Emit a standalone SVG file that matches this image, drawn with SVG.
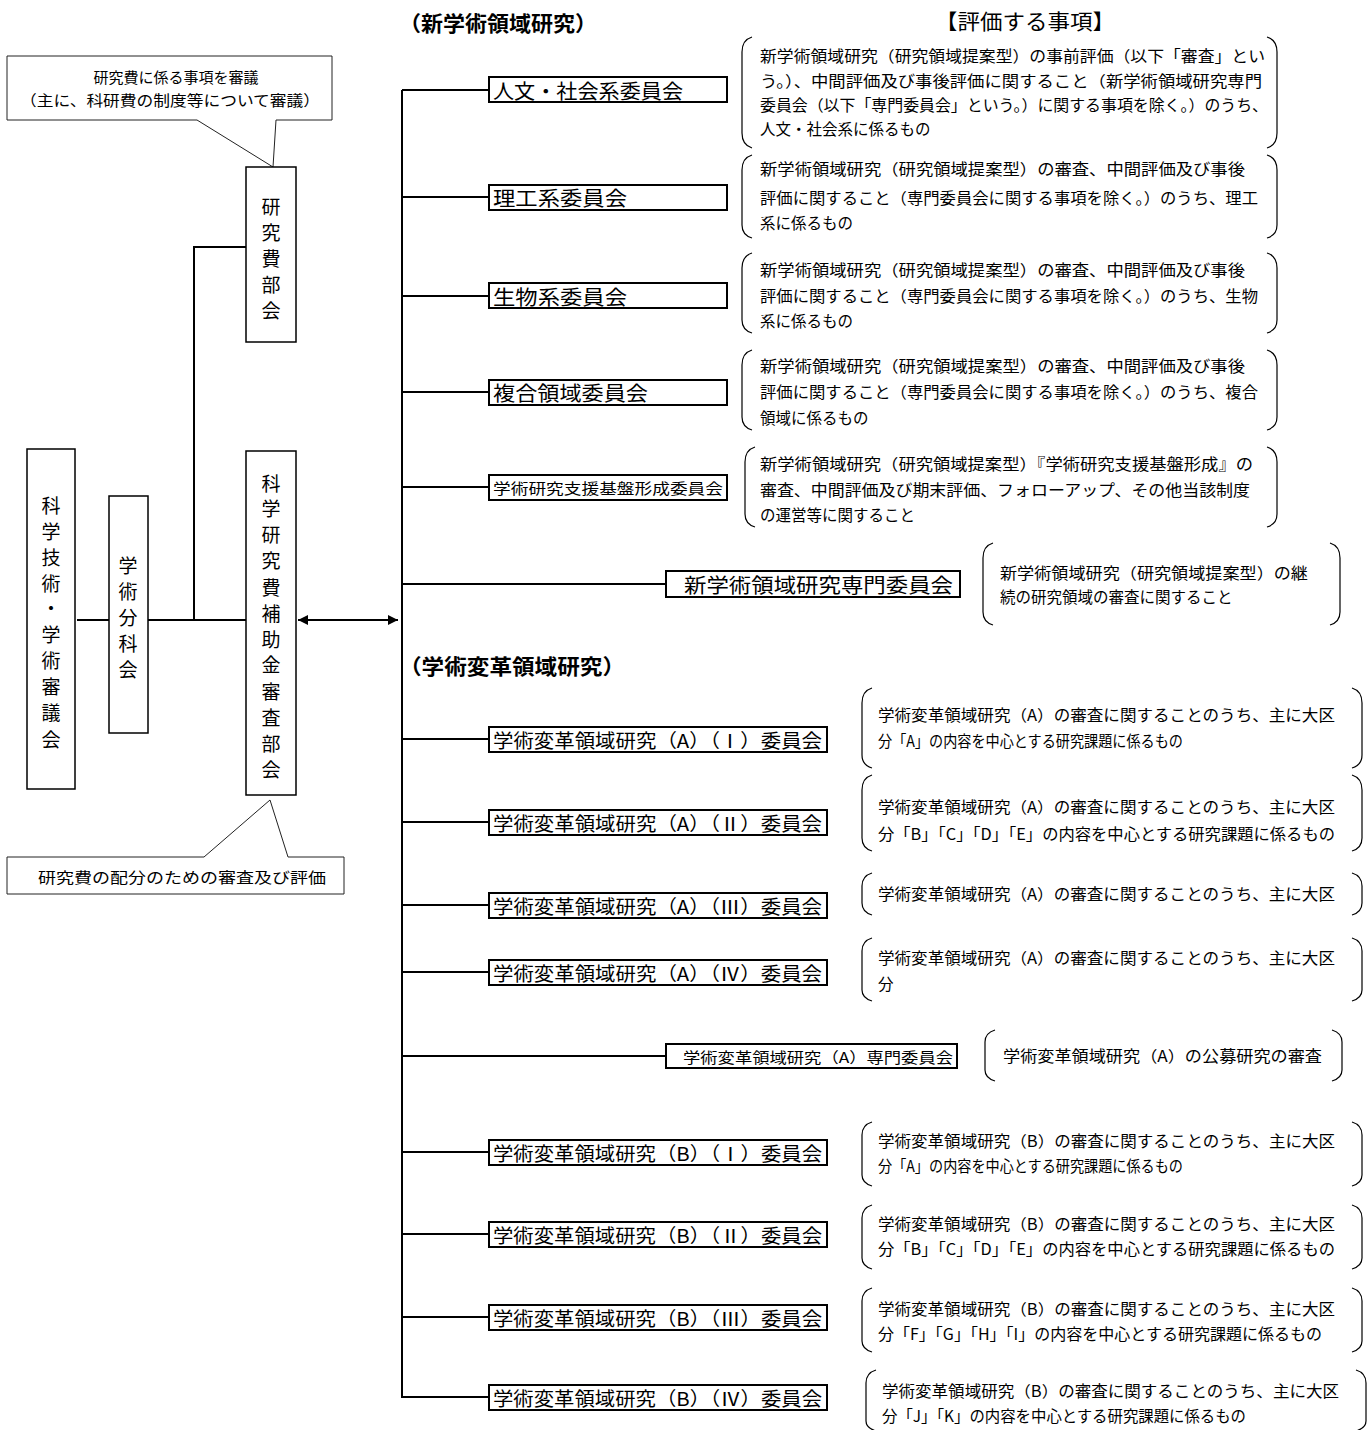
<svg xmlns="http://www.w3.org/2000/svg" width="1368" height="1430" viewBox="0 0 1368 1430">
<style>
text{font-family:"Noto Sans CJK JP","Liberation Sans",sans-serif;fill:#000;}
.v{font-size:19px;text-anchor:middle;dominant-baseline:central;}
.lbl{font-size:20px;dominant-baseline:central;}
.lbl2{font-size:19px;dominant-baseline:central;}
.sm{font-size:15px;dominant-baseline:central;}
.d{font-size:15.5px;dominant-baseline:central;}
.d2{font-size:15.5px;dominant-baseline:central;}
.hd{font-size:21px;font-weight:bold;dominant-baseline:central;}
.hr{font-size:21px;dominant-baseline:central;}
.co{font-size:15px;text-anchor:middle;dominant-baseline:central;}
.box{fill:#fff;stroke:#000;stroke-width:1.5;}
.cbox{fill:#fff;stroke:#000;stroke-width:2;}
.br{fill:none;stroke:#000;stroke-width:1.2;}
.call{fill:#fff;stroke:#222;stroke-width:1;}
.ln{fill:none;stroke:#000;stroke-width:2;}
</style>
<defs>
<marker id="ah" viewBox="0 0 10 10" refX="10" refY="5" markerWidth="10" markerHeight="10" markerUnits="userSpaceOnUse" orient="auto-start-reverse">
<path d="M0,0 L10,5 L0,10 Z" fill="#000"/>
</marker>
</defs>

<g id="connectors">
<path class="ln" d="M77,620 H109"/>
<path class="ln" d="M148,620 H246"/>
<path class="ln" d="M194,620 V247 H246"/>
<path class="ln" d="M298,620 H398" marker-start="url(#ah)" marker-end="url(#ah)"/>
<path class="ln" d="M402,90 V1397"/>
<path class="ln" d="M402,90 H489"/>
<path class="ln" d="M402,197 H489"/>
<path class="ln" d="M402,296 H489"/>
<path class="ln" d="M402,392 H489"/>
<path class="ln" d="M402,487 H489"/>
<path class="ln" d="M402,584 H666"/>
<path class="ln" d="M402,739 H489"/>
<path class="ln" d="M402,822 H489"/>
<path class="ln" d="M402,905 H489"/>
<path class="ln" d="M402,972 H489"/>
<path class="ln" d="M402,1056 H666"/>
<path class="ln" d="M402,1152 H489"/>
<path class="ln" d="M402,1234 H489"/>
<path class="ln" d="M402,1317 H489"/>
<path class="ln" d="M401,1397 H489"/>
</g>

<g id="callout-top">
<path class="call" d="M7,56 H332 V120 H276 L273,167 L197,120 H7 Z"/>
<text class="co" x="176" y="76">研究費に係る事項を審議</text>
<text class="co" x="170" y="99" textLength="300" lengthAdjust="spacingAndGlyphs">（主に、科研費の制度等について審議）</text>
</g>

<g id="callout-bottom">
<path class="call" d="M7,857 H204 L270,800 L288,857 H344 V894 H7 Z"/>
<text class="co" x="182" y="876" textLength="288" lengthAdjust="spacingAndGlyphs">研究費の配分のための審査及び評価</text>
</g>

<g id="node-council">
<rect class="box" x="27" y="449" width="48" height="340"/>
<text class="v"><tspan x="51" y="504">科</tspan><tspan x="51" y="530">学</tspan><tspan x="51" y="556">技</tspan><tspan x="51" y="582">術</tspan><tspan x="51" y="607">・</tspan><tspan x="51" y="633">学</tspan><tspan x="51" y="659">術</tspan><tspan x="51" y="685">審</tspan><tspan x="51" y="711">議</tspan><tspan x="51" y="738">会</tspan></text>
</g>

<g id="node-bunkakai">
<rect class="box" x="109" y="496" width="39" height="237"/>
<text class="v"><tspan x="128" y="564">学</tspan><tspan x="128" y="590">術</tspan><tspan x="128" y="616">分</tspan><tspan x="128" y="642">科</tspan><tspan x="128" y="668">会</tspan></text>
</g>

<g id="node-kenkyuhi">
<rect class="box" x="246" y="167" width="50" height="175"/>
<text class="v"><tspan x="271" y="205">研</tspan><tspan x="271" y="231">究</tspan><tspan x="271" y="257">費</tspan><tspan x="271" y="283">部</tspan><tspan x="271" y="309">会</tspan></text>
</g>

<g id="node-shinsa">
<rect class="box" x="246" y="451" width="50" height="344"/>
<text class="v"><tspan x="271" y="482">科</tspan><tspan x="271" y="507">学</tspan><tspan x="271" y="533">研</tspan><tspan x="271" y="559">究</tspan><tspan x="271" y="586">費</tspan><tspan x="271" y="612">補</tspan><tspan x="271" y="638">助</tspan><tspan x="271" y="663">金</tspan><tspan x="271" y="690">審</tspan><tspan x="271" y="716">査</tspan><tspan x="271" y="742">部</tspan><tspan x="271" y="768">会</tspan></text>
</g>

<g id="headers">
<text class="hd" x="399" y="22" textLength="198" lengthAdjust="spacingAndGlyphs">（新学術領域研究）</text>
<text class="hr" x="935" y="20" textLength="180" lengthAdjust="spacingAndGlyphs">【評価する事項】</text>
<text class="hd" x="399" y="665" textLength="226" lengthAdjust="spacingAndGlyphs">（学術変革領域研究）</text>
</g>

<!-- Section 1 -->
<g id="node-jinbun">
<rect class="cbox" x="489" y="77" width="238" height="25"/>
<text class="lbl" x="493" y="90" textLength="190" lengthAdjust="spacingAndGlyphs">人文・社会系委員会</text>
<path class="br" d="M752,37 Q742,40 742,52 V133 Q742,145 752,148"/>
<path class="br" d="M1267,37 Q1277,40 1277,52 V133 Q1277,145 1267,148"/>
<text class="d" x="760" y="55" textLength="505" lengthAdjust="spacingAndGlyphs">新学術領域研究（研究領域提案型）の事前評価（以下「審査」とい</text>
<text class="d" x="760" y="80" textLength="502" lengthAdjust="spacingAndGlyphs">う。）、中間評価及び事後評価に関すること（新学術領域研究専門</text>
<text class="d" x="760" y="104" textLength="508" lengthAdjust="spacingAndGlyphs">委員会（以下「専門委員会」という。）に関する事項を除く。）のうち、</text>
<text class="d" x="760" y="128">人文・社会系に係るもの</text>
</g>

<g id="node-riko">
<rect class="cbox" x="489" y="185" width="238" height="25"/>
<text class="lbl" x="493" y="197" textLength="134" lengthAdjust="spacingAndGlyphs">理工系委員会</text>
<path class="br" d="M752,155 Q742,158 742,170 V225 Q742,235 752,238"/>
<path class="br" d="M1267,155 Q1277,158 1277,170 V225 Q1277,235 1267,238"/>
<text class="d" x="760" y="168" textLength="485" lengthAdjust="spacingAndGlyphs">新学術領域研究（研究領域提案型）の審査、中間評価及び事後</text>
<text class="d" x="760" y="197" textLength="498" lengthAdjust="spacingAndGlyphs">評価に関すること（専門委員会に関する事項を除く。）のうち、理工</text>
<text class="d" x="760" y="222">系に係るもの</text>
</g>

<g id="node-seibutsu">
<rect class="cbox" x="489" y="283" width="238" height="25"/>
<text class="lbl" x="493" y="296" textLength="134" lengthAdjust="spacingAndGlyphs">生物系委員会</text>
<path class="br" d="M752,253 Q742,256 742,268 V320 Q742,330 752,333"/>
<path class="br" d="M1267,253 Q1277,256 1277,268 V320 Q1277,330 1267,333"/>
<text class="d" x="760" y="269" textLength="485" lengthAdjust="spacingAndGlyphs">新学術領域研究（研究領域提案型）の審査、中間評価及び事後</text>
<text class="d" x="760" y="295" textLength="498" lengthAdjust="spacingAndGlyphs">評価に関すること（専門委員会に関する事項を除く。）のうち、生物</text>
<text class="d" x="760" y="320">系に係るもの</text>
</g>

<g id="node-fukugo">
<rect class="cbox" x="489" y="380" width="238" height="25"/>
<text class="lbl" x="493" y="392" textLength="155" lengthAdjust="spacingAndGlyphs">複合領域委員会</text>
<path class="br" d="M752,350 Q742,353 742,365 V417 Q742,427 752,430"/>
<path class="br" d="M1267,350 Q1277,353 1277,365 V417 Q1277,427 1267,430"/>
<text class="d" x="760" y="365" textLength="485" lengthAdjust="spacingAndGlyphs">新学術領域研究（研究領域提案型）の審査、中間評価及び事後</text>
<text class="d" x="760" y="391" textLength="498" lengthAdjust="spacingAndGlyphs">評価に関すること（専門委員会に関する事項を除く。）のうち、複合</text>
<text class="d" x="760" y="417">領域に係るもの</text>
</g>

<g id="node-kiban">
<rect class="cbox" x="489" y="475" width="238" height="25"/>
<text class="sm" x="493" y="487" textLength="230" lengthAdjust="spacingAndGlyphs">学術研究支援基盤形成委員会</text>
<path class="br" d="M755,447 Q745,450 745,462 V514 Q745,524 755,527"/>
<path class="br" d="M1267,447 Q1277,450 1277,462 V514 Q1277,524 1267,527"/>
<text class="d" x="760" y="463" textLength="493" lengthAdjust="spacingAndGlyphs">新学術領域研究（研究領域提案型）『学術研究支援基盤形成』の</text>
<text class="d" x="760" y="489" textLength="490" lengthAdjust="spacingAndGlyphs">審査、中間評価及び期末評価、フォローアップ、その他当該制度</text>
<text class="d" x="760" y="514">の運営等に関すること</text>
</g>

<g id="node-shingaku-senmon">
<rect class="cbox" x="666" y="571" width="294" height="26"/>
<text class="lbl" x="684" y="584" textLength="269" lengthAdjust="spacingAndGlyphs">新学術領域研究専門委員会</text>
<path class="br" d="M993,543 Q983,546 983,558 V612 Q983,622 993,625"/>
<path class="br" d="M1330,543 Q1340,546 1340,558 V612 Q1340,622 1330,625"/>
<text class="d" x="1000" y="572" textLength="308" lengthAdjust="spacingAndGlyphs">新学術領域研究（研究領域提案型）の継</text>
<text class="d" x="1000" y="596">続の研究領域の審査に関すること</text>
</g>

<!-- Section 2 -->
<g id="node-a1">
<rect class="cbox" x="489" y="727" width="338" height="25"/>
<text class="lbl2" x="493" y="739" textLength="329" lengthAdjust="spacingAndGlyphs">学術変革領域研究（A）（Ⅰ）委員会</text>
<path class="br" d="M872,688 Q862,691 862,703 V755 Q862,765 872,768"/>
<path class="br" d="M1352,688 Q1362,691 1362,703 V755 Q1362,765 1352,768"/>
<text class="d2" x="878" y="714" textLength="457" lengthAdjust="spacingAndGlyphs">学術変革領域研究（A）の審査に関することのうち、主に大区</text>
<text class="d2" x="878" y="740" textLength="305" lengthAdjust="spacingAndGlyphs">分「A」の内容を中心とする研究課題に係るもの</text>
</g>

<g id="node-a2">
<rect class="cbox" x="489" y="810" width="338" height="25"/>
<text class="lbl2" x="493" y="822" textLength="329" lengthAdjust="spacingAndGlyphs">学術変革領域研究（A）（Ⅱ）委員会</text>
<path class="br" d="M872,775 Q862,778 862,790 V838 Q862,848 872,851"/>
<path class="br" d="M1352,775 Q1362,778 1362,790 V838 Q1362,848 1352,851"/>
<text class="d2" x="878" y="806" textLength="457" lengthAdjust="spacingAndGlyphs">学術変革領域研究（A）の審査に関することのうち、主に大区</text>
<text class="d2" x="878" y="833" textLength="457" lengthAdjust="spacingAndGlyphs">分「B」「C」「D」「E」の内容を中心とする研究課題に係るもの</text>
</g>

<g id="node-a3">
<rect class="cbox" x="489" y="893" width="338" height="25"/>
<text class="lbl2" x="493" y="905" textLength="329" lengthAdjust="spacingAndGlyphs">学術変革領域研究（A）（Ⅲ）委員会</text>
<path class="br" d="M872,873 Q862,876 862,886 V903 Q862,912 872,915"/>
<path class="br" d="M1352,873 Q1362,876 1362,886 V903 Q1362,912 1352,915"/>
<text class="d2" x="878" y="893" textLength="457" lengthAdjust="spacingAndGlyphs">学術変革領域研究（A）の審査に関することのうち、主に大区</text>
</g>

<g id="node-a4">
<rect class="cbox" x="489" y="960" width="338" height="25"/>
<text class="lbl2" x="493" y="972" textLength="329" lengthAdjust="spacingAndGlyphs">学術変革領域研究（A）（Ⅳ）委員会</text>
<path class="br" d="M872,938 Q862,941 862,951 V990 Q862,998 872,1001"/>
<path class="br" d="M1352,938 Q1362,941 1362,951 V990 Q1362,998 1352,1001"/>
<text class="d2" x="878" y="957" textLength="457" lengthAdjust="spacingAndGlyphs">学術変革領域研究（A）の審査に関することのうち、主に大区</text>
<text class="d2" x="878" y="983">分</text>
</g>

<g id="node-a-senmon">
<rect class="cbox" x="666" y="1044" width="291" height="24"/>
<text class="sm" x="683" y="1056" textLength="270" lengthAdjust="spacingAndGlyphs">学術変革領域研究（A）専門委員会</text>
<path class="br" d="M995,1030 Q985,1033 985,1042 V1070 Q985,1078 995,1081"/>
<path class="br" d="M1332,1030 Q1342,1033 1342,1042 V1070 Q1342,1078 1332,1081"/>
<text class="d2" x="1003" y="1055" textLength="319" lengthAdjust="spacingAndGlyphs">学術変革領域研究（A）の公募研究の審査</text>
</g>

<g id="node-b1">
<rect class="cbox" x="489" y="1140" width="338" height="25"/>
<text class="lbl2" x="493" y="1152" textLength="329" lengthAdjust="spacingAndGlyphs">学術変革領域研究（B）（Ⅰ）委員会</text>
<path class="br" d="M872,1122 Q862,1125 862,1135 V1175 Q862,1183 872,1186"/>
<path class="br" d="M1352,1122 Q1362,1125 1362,1135 V1175 Q1362,1183 1352,1186"/>
<text class="d2" x="878" y="1140" textLength="457" lengthAdjust="spacingAndGlyphs">学術変革領域研究（B）の審査に関することのうち、主に大区</text>
<text class="d2" x="878" y="1165" textLength="305" lengthAdjust="spacingAndGlyphs">分「A」の内容を中心とする研究課題に係るもの</text>
</g>

<g id="node-b2">
<rect class="cbox" x="489" y="1222" width="338" height="25"/>
<text class="lbl2" x="493" y="1234" textLength="329" lengthAdjust="spacingAndGlyphs">学術変革領域研究（B）（Ⅱ）委員会</text>
<path class="br" d="M872,1205 Q862,1208 862,1218 V1258 Q862,1266 872,1269"/>
<path class="br" d="M1352,1205 Q1362,1208 1362,1218 V1258 Q1362,1266 1352,1269"/>
<text class="d2" x="878" y="1223" textLength="457" lengthAdjust="spacingAndGlyphs">学術変革領域研究（B）の審査に関することのうち、主に大区</text>
<text class="d2" x="878" y="1248" textLength="457" lengthAdjust="spacingAndGlyphs">分「B」「C」「D」「E」の内容を中心とする研究課題に係るもの</text>
</g>

<g id="node-b3">
<rect class="cbox" x="489" y="1305" width="338" height="25"/>
<text class="lbl2" x="493" y="1317" textLength="329" lengthAdjust="spacingAndGlyphs">学術変革領域研究（B）（Ⅲ）委員会</text>
<path class="br" d="M872,1288 Q862,1291 862,1301 V1341 Q862,1349 872,1352"/>
<path class="br" d="M1352,1288 Q1362,1291 1362,1301 V1341 Q1362,1349 1352,1352"/>
<text class="d2" x="878" y="1308" textLength="457" lengthAdjust="spacingAndGlyphs">学術変革領域研究（B）の審査に関することのうち、主に大区</text>
<text class="d2" x="878" y="1333" textLength="444" lengthAdjust="spacingAndGlyphs">分「F」「G」「H」「I」の内容を中心とする研究課題に係るもの</text>
</g>

<g id="node-b4">
<rect class="cbox" x="489" y="1385" width="338" height="25"/>
<text class="lbl2" x="493" y="1397" textLength="329" lengthAdjust="spacingAndGlyphs">学術変革領域研究（B）（Ⅳ）委員会</text>
<path class="br" d="M876,1370 Q866,1373 866,1383 V1421 Q866,1428 876,1431"/>
<path class="br" d="M1356,1370 Q1366,1373 1366,1383 V1421 Q1366,1428 1356,1431"/>
<text class="d2" x="882" y="1390" textLength="457" lengthAdjust="spacingAndGlyphs">学術変革領域研究（B）の審査に関することのうち、主に大区</text>
<text class="d2" x="882" y="1415" textLength="364" lengthAdjust="spacingAndGlyphs">分「J」「K」の内容を中心とする研究課題に係るもの</text>
</g>
</svg>
